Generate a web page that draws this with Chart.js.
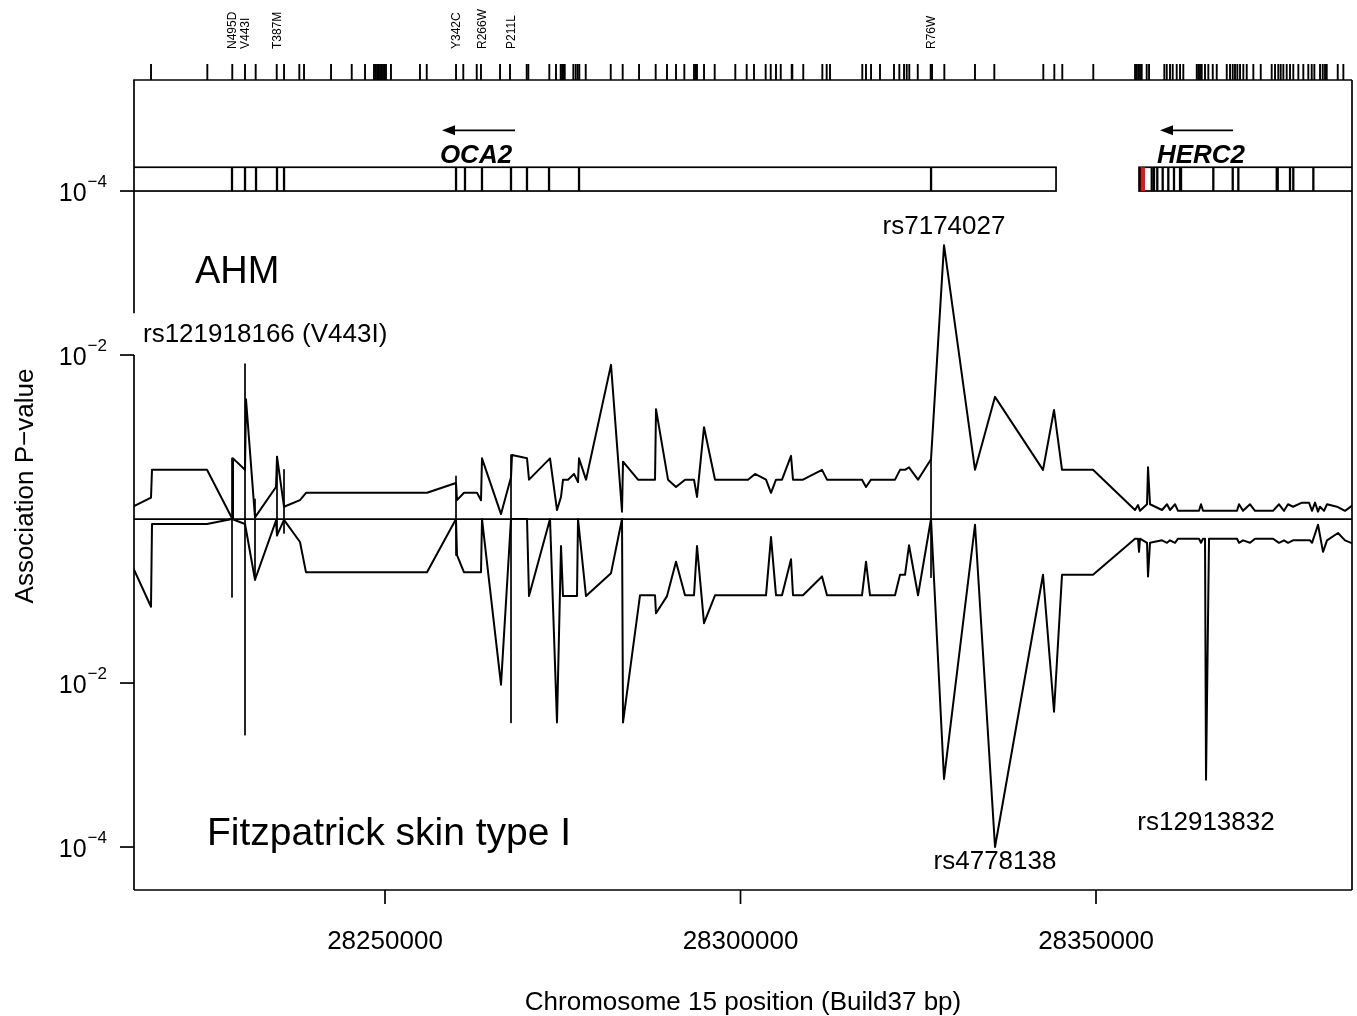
<!DOCTYPE html>
<html>
<head>
<meta charset="utf-8">
<script src="https://cdn.jsdelivr.net/npm/chart.js@4.4.1/dist/chart.umd.min.js"></script>
<style>
html,body{margin:0;padding:0;background:#fff;}
#wrap{width:1357px;height:1016px;position:relative;}
canvas{display:block;}
</style>
</head>
<body>
<div id="wrap"><canvas id="c" width="1357" height="1016"></canvas></div>
<script>
// ---------------- DATA ----------------
// AHM association: SNP positions (bp) and -log10(P)
const ahmPos = [28214556,28217088,28217229,28224965,28228481,28228621,28230309,28230450,28231716,28234669,
28234810,28235795,28238045,28238889,28255908,28259986,28260127,28261112,28262940,28263503,
28263643,28266316,28267722,28267863,28269973,28270254,28273208,28274192,28274755,28275036,
28275739,28276583,28277146,28277286,28278271,28281787,28283334,28283475,28285585,28287976,
28288116,28289804,28290929,28292195,28293461,28293883,28294868,28296415,28301056,28302041,
28303588,28304291,28304994,28305838,28307104,28307385,28308792,28311464,28312168,28317090,
28317653,28318356,28321732,28322435,28323138,28323701,28324967,28326795,28328624,28332984,
28335797,28342548,28344095,28345220,28349580,28355488,28355910,28356191,28357176,28357316,
28357598,28359285,28359989,28360411,28361114,28361536,28364489,28364771,28365052,28369834,
28370115,28370678,28371663,28372366,28374897,28375741,28376445,28377007,28377710,28378976,
28379961,28380383,28380805,28381227,28381508,28382071,28382493,28383899,28385024,28386149];
const ahmLogP = [0.15,0.26,0.60,0.60,0.01,0.74,0.60,1.46,0.02,0.39,
0.76,0.15,0.23,0.32,0.32,0.44,0.23,0.32,0.32,0.23,
0.74,0.06,0.51,0.78,0.74,0.48,0.74,0.11,0.27,0.48,
0.48,0.55,0.45,0.74,0.48,1.88,0.09,0.70,0.48,0.48,
1.34,0.48,0.39,0.48,0.48,0.27,1.12,0.48,0.48,0.55,
0.48,0.32,0.48,0.48,0.77,0.48,0.48,0.60,0.48,0.48,
0.39,0.48,0.48,0.60,0.60,0.63,0.48,0.73,3.34,0.60,
1.49,0.60,1.33,0.60,0.60,0.11,0.17,0.10,0.18,0.63,
0.18,0.11,0.18,0.11,0.18,0.10,0.10,0.18,0.10,0.10,
0.18,0.10,0.18,0.10,0.10,0.18,0.10,0.18,0.15,0.20,
0.20,0.10,0.20,0.09,0.15,0.10,0.18,0.15,0.10,0.17];

// Fitzpatrick skin type I association: positions (bp) and -log10(P)
const fitzPos = [28214556,28217088,28217229,28224965,28228481,28230309,28231716,28234669,28234810,28235795,
28238045,28238889,28255908,28259986,28260127,28261112,28263503,28263643,28266316,28267722,
28268988,28269973,28270254,28273208,28274192,28274755,28275036,28277005,28277146,28278271,
28281787,28283334,28283475,28285866,28287976,28288116,28289664,28290929,28292195,28293461,
28293883,28294868,28296415,28303588,28304291,28304994,28305838,28307104,28307385,28308792,
28311464,28312168,28317090,28317653,28318216,28321732,28322435,28323138,28323701,28324967,
28326795,28328624,28332984,28335797,28342548,28344095,28345220,28349580,28355488,28355910,
28356050,28356191,28357176,28357316,28357598,28359285,28359989,28360411,28361114,28361536,
28364489,28364771,28365052,28365333,28365474,28365896,28369834,28370115,28370678,28371663,
28372366,28374897,28375741,28376445,28377007,28377710,28380102,28380383,28381227,28381930,
28382493,28384040,28385024,28386149];
const fitzLogP = [0.59,1.07,0.06,0.06,0.00,0.06,0.74,0.02,0.20,0.01,
0.28,0.65,0.65,0.00,0.44,0.65,0.65,0.00,2.02,0.00,
0.00,0.00,0.94,0.00,2.48,0.33,0.94,0.94,0.00,0.94,
0.66,0.00,2.48,0.93,0.93,1.15,0.94,0.52,0.93,0.93,
0.33,1.27,0.93,0.93,0.22,0.93,0.93,0.49,0.93,0.93,
0.70,0.93,0.93,0.52,0.93,0.93,0.68,0.68,0.32,0.93,
0.00,3.17,0.07,4.00,0.68,2.35,0.68,0.68,0.24,0.24,
0.40,0.24,0.29,0.70,0.29,0.26,0.29,0.26,0.29,0.24,
0.24,0.29,0.24,0.24,3.18,0.24,0.24,0.29,0.26,0.29,
0.24,0.24,0.29,0.26,0.29,0.26,0.26,0.29,0.07,0.40,
0.26,0.17,0.26,0.30];

// Coding SNPs joined across both panels: position, -log10(P) AHM, -log10(P) Fitzpatrick
const codingPos  = [28228481,28230309,28231716,28234810,28235795,28259986,28267722,28326795];
const codingAhm  = [0.74,1.89,0.24,0.76,0.60,0.52,0.78,0.73];
const codingFitz = [0.95,2.63,0.74,0.20,0.17,0.44,2.48,0.71];

// Amino-acid change labels (top)
const variantPos    = [28228551,28230380,28234810,28259986,28263643,28267722,28326795];
const variantLabels = ['N495D','V443I','T387M','Y342C','R266W','P211L','R76W'];

// SNP rug (top)
const snpRugPos = [28217090,28225010,28228520,28230310,28231810,28234770,28235800,28237950,28238610,28242410,
28245320,28247190,28248450,28248660,28248880,28249090,28249300,28249510,28249720,28249930,
28250140,28250840,28254920,28255870,28259990,28261010,28262900,28263500,28266180,28267580,
28269930,28270160,28273110,28274050,28274710,28274900,28275080,28275280,28276490,28276820,
28277100,28277330,28278230,28281750,28283430,28285730,28288070,28289660,28290930,28292100,
28293460,28293700,28293880,28294870,28296370,28299270,28300870,28301900,28303540,28304250,
28304990,28305660,28307200,28307290,28308830,28311510,28312120,28312590,28317130,28317650,
28318360,28319620,28321590,28322340,28323000,28323380,28323740,28324930,28326750,28326940,
28328670,28332980,28335700,28342590,28344140,28345260,28349620,28355490,28355730,28355950,
28356190,28356430,28357130,28357460,28359610,28359950,28360410,28360790,28361350,28361820,
28362280,28364170,28364390,28364630,28364870,28365330,28365800,28366420,28366980,28368390,
28368850,28369230,28369550,28369880,28370260,28370720,28371200,28372130,28373170,28374710,
28375180,28375640,28375980,28376350,28376820,28377290,28377750,28378460,28379160,28379860,
28380340,28380710,28381510,28381890,28382210,28382450,28384000,28384790];

// Genes
const geneNames  = ['OCA2','HERC2'];
const geneStart  = [28214000,28356050];
const geneEnd    = [28344380,28392000];
const geneLabelPos = [28262800,28364770];
const arrowFrom  = [28268285,28369271];
const arrowTo    = [28258017,28359004];
const oca2Exons  = [28228480,28230310,28231860,28234810,28235800,28259990,28261250,28263640,28267720,28269970,28273070,28277290,28326800];
const herc2Exons = [28357840,28358160,28358620,28359380,28360170,28360970,28361820,28361960,28366500,28369230,28370020,28375420,28375560,28377290,28377750,28380570];
const herc2Highlight = [28356190,28356890];

// Axes
const xTicks = [28250000,28300000,28350000];
const yTickExp = [4,2];
const xMin = 28214697, xMax = 28386006;
const yMin = -4.524, yMax = 5.354;

// Highlighted SNPs
const hitNames = ['rs7174027','rs4778138','rs12913832'];
const hitPos   = [28328624,28335797,28365474];

// ---------------- BUILD ----------------
const FONT = '"Liberation Sans", Arial, Helvetica, sans-serif';
const upperData = ahmPos.map((p,i)=>({x:p, y:ahmLogP[i]}));
const lowerData = fitzPos.map((p,i)=>({x:p, y:-fitzLogP[i]}));
const segData = [];
codingPos.forEach((p,i)=>{
  segData.push({x:p, y:codingAhm[i]});
  segData.push({x:p, y:-codingFitz[i]});
  segData.push({x:p, y:null});
});

const overlay = {
  id:'overlay',
  beforeDatasetsDraw(chart){
    const ctx = chart.ctx, X = chart.scales.x, Y = chart.scales.y, ca = chart.chartArea;
    ctx.save();
    ctx.strokeStyle = '#000'; ctx.lineWidth = 1.7;
    const y0 = Y.getPixelForValue(0);
    ctx.beginPath(); ctx.moveTo(ca.left, y0); ctx.lineTo(ca.right, y0); ctx.stroke();
    ctx.restore();
  },
  afterDraw(chart){
    const ctx = chart.ctx, X = chart.scales.x, Y = chart.scales.y, ca = chart.chartArea;
    const px = v => X.getPixelForValue(v), py = v => Y.getPixelForValue(v);
    const seg = (x1,y1,x2,y2)=>{ctx.beginPath();ctx.moveTo(x1,y1);ctx.lineTo(x2,y2);ctx.stroke();};
    ctx.save();
    ctx.strokeStyle = '#000'; ctx.fillStyle = '#000'; ctx.lineWidth = 1.7;

    // frame
    seg(ca.left-0.8, ca.top, ca.right, ca.top);
    seg(ca.right, ca.top, ca.right, ca.bottom);
    seg(ca.left, ca.bottom, ca.right, ca.bottom);
    seg(ca.left, ca.top, ca.left, py(2.51));
    seg(ca.left, py(2), ca.left, ca.bottom);

    // SNP rug
    ctx.lineWidth = 1.9;
    snpRugPos.forEach(p=>{ const x = px(p); if (x>=ca.left && x<=ca.right) seg(x, ca.top-16, x, ca.top); });

    // variant labels
    ctx.font = '12px ' + FONT; ctx.textAlign = 'left'; ctx.textBaseline = 'middle';
    variantPos.forEach((p,i)=>{
      ctx.save(); ctx.translate(px(p), 49); ctx.rotate(-Math.PI/2);
      ctx.fillText(variantLabels[i], 0, 0.5); ctx.restore();
    });

    // gene track
    ctx.save();
    ctx.beginPath(); ctx.rect(ca.left, ca.top, ca.width, ca.height); ctx.clip();
    const gTop = py(4.29), gBot = py(4.0);
    ctx.lineWidth = 1.7;
    geneNames.forEach((g,i)=>{
      const x1 = px(geneStart[i]), x2 = px(geneEnd[i]);
      ctx.strokeRect(x1, gTop, x2-x1, gBot-gTop);
    });
    ctx.fillStyle = '#e8141b';
    const hx1 = px(herc2Highlight[0]), hx2 = px(herc2Highlight[1]);
    ctx.fillRect(hx1, gTop, hx2-hx1, gBot-gTop);
    ctx.lineWidth = 2.3;
    oca2Exons.concat(herc2Exons).forEach(p=>{ const x = px(p); seg(x, gTop, x, gBot); });
    ctx.lineWidth = 1.7;
    const hxL = px(herc2Highlight[0]);
    seg(hxL, gTop, hxL, gBot);
    ctx.restore();

    // arrows + gene names
    ctx.fillStyle = '#000'; ctx.lineWidth = 1.7;
    const ay = py(4.74);
    geneNames.forEach((g,i)=>{
      const xa = px(arrowFrom[i]), xb = px(arrowTo[i]);
      seg(xa, ay, xb+8, ay);
      ctx.beginPath(); ctx.moveTo(xb, ay); ctx.lineTo(xb+13, ay-5); ctx.lineTo(xb+13, ay+5); ctx.closePath(); ctx.fill();
      ctx.font = 'italic bold 26px ' + FONT; ctx.textAlign = 'center'; ctx.textBaseline = 'alphabetic';
      ctx.fillText(g, px(geneLabelPos[i]), py(4.34));
    });

    // y ticks 10^-k
    ctx.lineWidth = 1.7;
    yTickExp.forEach(k=>{
      [1,-1].forEach(s=>{
        const y = py(s*k);
        seg(ca.left-14, y, ca.left, y);
        ctx.textAlign = 'left'; ctx.textBaseline = 'alphabetic';
        ctx.font = '25px ' + FONT; const w10 = ctx.measureText('10').width;
        ctx.font = '17px ' + FONT; const sup = '\u2212' + k; const ws = ctx.measureText(sup).width;
        const x0 = 107 - ws - w10 - 1;
        ctx.font = '25px ' + FONT; ctx.fillText('10', x0, y + 10);
        ctx.font = '17px ' + FONT; ctx.fillText(sup, x0 + w10 + 1, y - 4);
      });
    });

    // x ticks
    ctx.font = '26px ' + FONT; ctx.textAlign = 'center'; ctx.textBaseline = 'alphabetic';
    xTicks.forEach(t=>{ const x = px(t); seg(x, ca.bottom, x, ca.bottom+14); ctx.fillText(String(t), x, 949); });

    // axis titles
    ctx.fillText('Chromosome 15 position (Build37 bp)', (ca.left+ca.right)/2, 1010);
    ctx.save(); ctx.translate(26, 486); ctx.rotate(-Math.PI/2);
    ctx.textBaseline = 'middle'; ctx.fillText('Association P\u2212value', 0, 0); ctx.restore();

    // panel labels
    ctx.textAlign = 'left'; ctx.font = '38px ' + FONT;
    ctx.fillText('AHM', 195, 283);
    ctx.font = '39px ' + FONT;
    ctx.fillText('Fitzpatrick skin type I', 207, 845);

    // SNP labels
    ctx.font = '26px ' + FONT;
    ctx.fillText('rs121918166 (V443I)', 143, 342);
    ctx.textAlign = 'center';
    ctx.fillText(hitNames[0], px(hitPos[0]), 234);
    ctx.fillText(hitNames[1], px(hitPos[1]), 869);
    ctx.fillText(hitNames[2], px(hitPos[2]), 830);
    ctx.restore();
  }
};

const lineStyle = {borderColor:'#000', borderWidth:2, pointRadius:0, fill:false, tension:0,
  borderJoinStyle:'round', borderCapStyle:'round', spanGaps:false};

new Chart(document.getElementById('c'), {
  type:'line',
  data:{datasets:[
    Object.assign({label:'AHM', data:upperData}, lineStyle),
    Object.assign({label:'Fitzpatrick skin type I', data:lowerData}, lineStyle),
    Object.assign({label:'coding', data:segData}, lineStyle, {borderWidth:1.7})
  ]},
  options:{
    responsive:false, animation:false, devicePixelRatio:1,
    layout:{padding:{left:134, top:80, right:5, bottom:126}},
    plugins:{legend:{display:false}, tooltip:{enabled:false}},
    scales:{
      x:{type:'linear', min:xMin, max:xMax, display:false},
      y:{type:'linear', min:yMin, max:yMax, display:false}
    }
  },
  plugins:[overlay]
});
</script>
</body>
</html>
